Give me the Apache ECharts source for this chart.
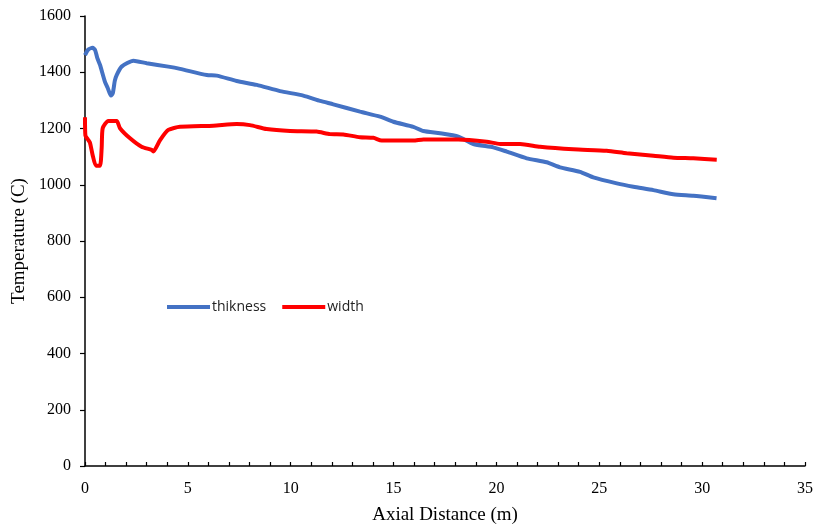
<!DOCTYPE html>
<html>
<head>
<meta charset="utf-8">
<script src="https://cdn.jsdelivr.net/npm/echarts@6/dist/echarts.min.js"></script>
<style>
    html, body { margin: 0; padding: 0; background: #fff; }
    #chart { width: 814px; height: 526px; }
</style>
</head>
<body>
<div id="chart"></div>
<script>
// 厚度方向温度 (x: m, y: C)
var thickX = [0, 0.15, 0.37, 0.49, 0.6, 0.73, 0.97, 1.1, 1.26, 1.35, 1.45, 1.54, 1.78, 2.35, 3.0, 4.05, 4.62,
    5.92, 6.4, 7.37, 8.35, 9.48, 10.61, 11.43, 12.07, 13.37, 14.34, 14.99, 15.96, 16.45, 17.26, 18.15,
    18.88, 19.85, 20.5, 21.47, 22.44, 23.09, 24.06, 24.71, 25.85, 26.66, 27.63, 28.6, 29.57, 30.7];
var thickY = [1461, 1480, 1487, 1479, 1450, 1426, 1366, 1345, 1317, 1325, 1370, 1390, 1420, 1441, 1432, 1420, 1412,
    1390, 1388, 1369, 1355, 1333, 1317, 1298, 1286, 1260, 1242, 1224, 1206, 1191, 1183, 1171,
    1145, 1133, 1118, 1094, 1080, 1062, 1046, 1026, 1005, 993, 981, 966, 961, 952];
// 宽度方向温度
var widthX = [0, 0.02, 0.15, 0.24, 0.37, 0.53, 0.73, 0.81, 0.86, 1.13, 1.54, 1.7, 2.19, 2.75, 3.24, 3.32, 3.65,
    4.05, 4.62, 6.24, 7.37, 8.02, 8.83, 9.97, 11.26, 11.91, 12.56, 13.37, 14.02, 14.42, 15.96, 16.45, 18.15,
    19.53, 20.18, 21.15, 22.12, 23.74, 25.36, 26.33, 27.63, 28.6, 29.57, 30.71];
var widthY = [1240, 1175, 1160, 1150, 1106, 1068, 1068, 1130, 1201, 1227, 1227, 1201, 1165, 1135, 1124, 1118, 1159,
    1195, 1206, 1210, 1216, 1212, 1198, 1191, 1189, 1180, 1179, 1169, 1167, 1157, 1157, 1161, 1161,
    1153, 1145, 1145, 1135, 1126, 1121, 1112, 1103, 1096, 1094, 1089];
var seriesNames = ['thikness', 'width'];
var xTicks = [0, 35, 1];   // 刻度每 1 m，标签每 5 m
var xLabelStep = 5;
var yTicks = [0, 1600, 200];

function pairs(xs, ys) {
    var out = [];
    for (var i = 0; i < xs.length; i++) {
        out.push([xs[i], ys[i]]);
    }
    return out;
}

var chart = echarts.init(document.getElementById('chart'));
var serifFont = '"Liberation Serif", "Times New Roman", serif';
var option = {
    animation: false,
    color: ['#4472C4', '#FF0000'],
    grid: {
        left: 85,
        top: 16,
        right: 9,
        bottom: 60,
        containLabel: false,
        outerBoundsMode: 'none'
    },
    legend: {
        data: seriesNames,
        left: 162,
        top: 295,
        itemWidth: 43,
        itemHeight: 4,
        itemGap: 16,
        icon: 'rect',
        textStyle: {
            fontFamily: '"Open Sans", "Noto Sans", sans-serif',
            fontSize: 14,
            color: '#222',
            padding: [0, 0, 0, -3]
        }
    },
    xAxis: {
        type: 'value',
        min: xTicks[0],
        max: xTicks[1],
        interval: xTicks[2],
        name: 'Axial Distance (m)',
        nameLocation: 'middle',
        nameGap: 40,
        nameTextStyle: { fontFamily: serifFont, fontSize: 19, color: '#000' },
        splitLine: { show: false },
        axisLine: { lineStyle: { color: '#000', width: 1.5 } },
        axisTick: { inside: true, length: 4, lineStyle: { color: '#000', width: 1.2 } },
        axisLabel: {
            fontFamily: serifFont, fontSize: 16, color: '#000', margin: 15,
            formatter: function (v) {
                return v % xLabelStep === 0 ? String(v) : '';
            }
        }
    },
    yAxis: {
        type: 'value',
        min: yTicks[0],
        max: yTicks[1],
        interval: yTicks[2],
        name: 'Temperature (C)',
        nameLocation: 'middle',
        nameGap: 55,
        nameTextStyle: { fontFamily: serifFont, fontSize: 19, color: '#000' },
        splitLine: { show: false },
        axisLine: { show: true, lineStyle: { color: '#000', width: 1.5 } },
        axisTick: { show: true, length: 5, lineStyle: { color: '#000', width: 1.2 } },
        axisLabel: {
            fontFamily: serifFont, fontSize: 16, color: '#000', margin: 14,
            formatter: function (v) { return String(v); }
        }
    },
    series: [
        {
            name: seriesNames[0],
            type: 'line',
            showSymbol: false,
            symbol: 'none',
            smooth: 0.2,
            lineStyle: { width: 4 },
            data: pairs(thickX, thickY)
        },
        {
            name: seriesNames[1],
            type: 'line',
            showSymbol: false,
            symbol: 'none',
            smooth: 0.2,
            lineStyle: { width: 4 },
            data: pairs(widthX, widthY)
        }
    ]
};
chart.setOption(option);
</script>
</body>
</html>
